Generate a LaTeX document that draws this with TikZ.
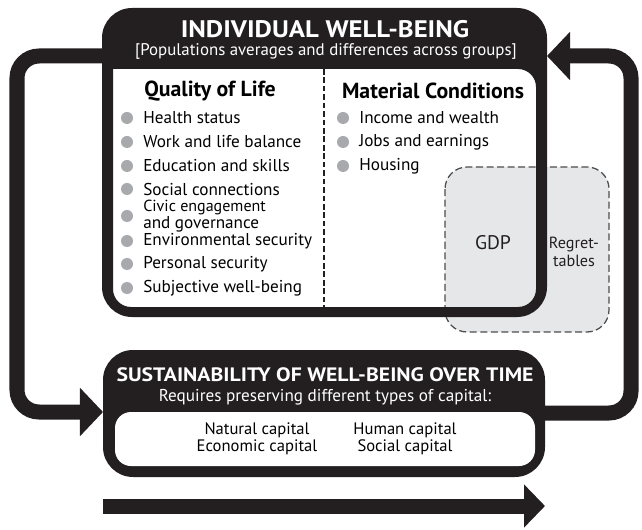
\documentclass[tikz,border=0pt]{standalone}
\usepackage{fontspec}
\setmainfont{PT Sans}
\newfontfamily\widefont{PT Sans}[FakeStretch=1.12]
\usetikzlibrary{arrows.meta}

\definecolor{ink}{HTML}{231F20}
\definecolor{dotgray}{HTML}{A7A9AC}
\definecolor{gdpgray}{HTML}{E6E7E8}
\definecolor{dashgray}{HTML}{4D4D4F}

\tikzset{
  loopline/.style={draw=ink, line width=0.375cm, rounded corners=0.55cm,
    -{Triangle[length=0.575cm,width=1.175cm]}},
  bullet/.style={circle, fill=dotgray, minimum size=0.3cm, inner sep=0pt},
  item/.style={anchor=west, inner sep=0pt, align=left,
    font=\fontsize{12.2}{10}\selectfont},
  colhead/.style={inner sep=0pt, font=\fontsize{15.5}{16}\bfseries\selectfont},
  bigtitle/.style={inner sep=0pt, text=white, font=\widefont\fontsize{17}{18}\bfseries\selectfont},
  subtitle/.style={inner sep=0pt, text=white, font=\fontsize{12}{12}\selectfont},
}

\begin{document}
\begin{tikzpicture}[x=0.025cm, y=-0.025cm]
  \useasboundingbox (0,0) rectangle (642,530);

  % loop ends on the two boxes
  \coordinate (iwbL) at (102,56);
  \coordinate (iwbR) at (547,56);
  \coordinate (susL) at (103,412);
  \coordinate (susR) at (545,413);
  \coordinate (timeA) at (103,506);
  \coordinate (timeB) at (545,506);

  % feedback loops
  \draw[loopline] (iwbL) -- (17,56) |- (susL);
  \draw[loopline] (susR) -- (631,413) |- (iwbR);
  \draw[loopline, -{Triangle[length=0.525cm,width=1.05cm]}] (timeA) -- (timeB);

  % individual well-being box
  \fill[white] (113,69) [rounded corners=0.45cm] -- (113,307) -- (536,307)
    -- (536,69) [sharp corners] -- cycle;
  \filldraw[fill=gdpgray, draw=dashgray, line width=0.9pt, dash pattern=on 5pt off 2.5pt,
    rounded corners=0.55cm] (445,167) rectangle (609,332);
  \fill[ink, even odd rule] [rounded corners=0.75cm] (102,8) rectangle (547,317)
    (113,69) [rounded corners=0.45cm] -- (113,307) -- (536,307)
    -- (536,69) [sharp corners] -- cycle;
  \draw[ink, line width=0.8pt, dash pattern=on 4pt off 2pt] (324,69) -- (324,307);

  % sustainability box
  \fill[ink, rounded corners=0.75cm] (103,350) rectangle (545,477);
  \fill[white, rounded corners=0.4cm] (115,412) rectangle (535,466);

  % headings
  \node[bigtitle] (iwbTitle) at (325,29) {INDIVIDUAL WELL-BEING};
  \node[subtitle] (iwbSub) at (326,51) {[Populations averages and differences across groups]};
  \node[colhead] (qolHead) at (210,91) {Quality of Life};
  \node[colhead] (matHead) at (433,91) {Material Conditions};

  % quality of life
  \foreach \y/\txt [count=\i] in {118/Health status, 142/Work and life balance,
      166/Education and skills, 189/Social connections,
      216/{\fontsize{11.4}{10}\selectfont Civic engagement\\and governance},
      241/Environmental security, 264/Personal security, 288/Subjective well-being} {
    \node[bullet] (qolDot\i) at (127,\y) {};
    \node[item] (qolItem\i) at (143,\y) {\txt};
  }

  % material conditions
  \foreach \y/\txt [count=\i] in {118/Income and wealth, 142/Jobs and earnings,
      166/Housing} {
    \node[bullet] (matDot\i) at (343,\y) {};
    \node[item] (matItem\i) at (359,\y) {\txt};
  }

  \node[font=\fontsize{14}{14}\selectfont, text=ink] (gdp) at (493,243) {GDP};
  \node[font=\fontsize{11.5}{13}\selectfont, align=center, text=ink] (regret) at (574,252)
    {Regret-\\tables};

  % sustainability texts
  \node[bigtitle, font=\widefont\fontsize{13.8}{14}\bfseries\selectfont] (susTitle) at (325,375)
    {SUSTAINABILITY OF WELL-BEING OVER TIME};
  \node[subtitle, font=\fontsize{12.2}{12}\selectfont] (susSub) at (325,397)
    {Requires preserving different types of capital:};
  \node[item, anchor=center, align=center, font=\fontsize{11.8}{12}\selectfont] (capA) at (257,439)
    {Natural capital\\Economic capital};
  \node[item, anchor=center, align=center, font=\fontsize{11.8}{12}\selectfont] (capB) at (405,439)
    {Human capital\\Social capital};
\end{tikzpicture}
\end{document}
